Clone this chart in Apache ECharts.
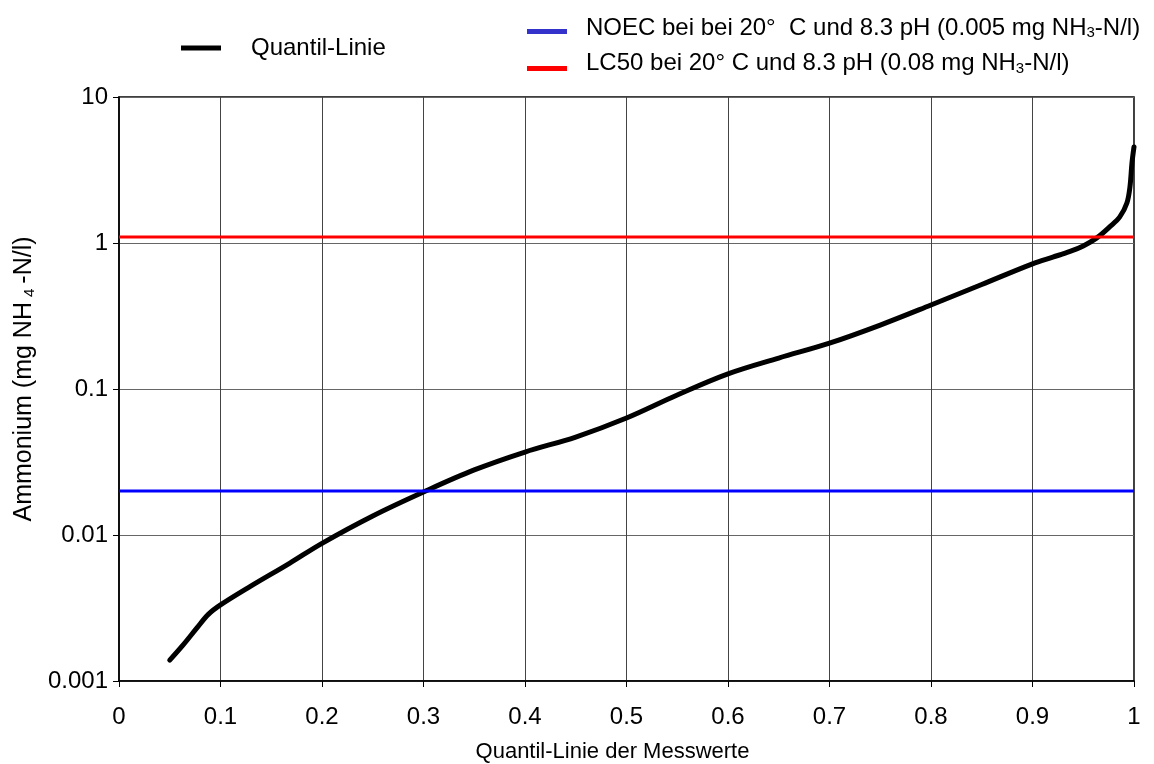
<!DOCTYPE html>
<html>
<head>
<meta charset="utf-8">
<script src="https://cdn.jsdelivr.net/npm/echarts@6/dist/echarts.min.js"></script>
<style>
html,body{margin:0;padding:0;background:#fff;}
#chart{width:1154px;height:764px;}
</style>
</head>
<body>
<div id="chart"></div>
<script>
// Data
const quantiles = [0.05, 0.063, 0.077, 0.088, 0.10, 0.129, 0.168, 0.20, 0.25, 0.30, 0.35, 0.40, 0.45, 0.50, 0.55, 0.60, 0.65, 0.70, 0.75, 0.80, 0.85, 0.90, 0.92, 0.937, 0.95, 0.963, 0.976, 0.986, 0.993, 0.996, 0.998, 1.0];
const ammonium  = [0.00139, 0.00176, 0.00232, 0.00286, 0.00332, 0.00443, 0.0064, 0.00877, 0.0135, 0.0197, 0.0279, 0.037, 0.0469, 0.0633, 0.091, 0.127, 0.163, 0.206, 0.274, 0.376, 0.52, 0.72, 0.80, 0.875, 0.955, 1.08, 1.29, 1.51, 1.88, 2.42, 3.53, 4.55];
const noecLevel = 0.02;
const lc50Level = 1.1;
const levelSpan = [0, 1];
const xTicks = [0, 0.1, 0.2, 0.3, 0.4, 0.5, 0.6, 0.7, 0.8, 0.9, 1];
const yTicks = [0.001, 0.01, 0.1, 1, 10];
const names = {
  curve: 'Quantil-Linie',
  noec: 'NOEC',
  lc50: 'LC50'
};
const legendLabels = {
  'Quantil-Linie': '{a|Quantil-Linie}',
  'NOEC': '{a|NOEC bei bei 20°  C und 8.3 pH (0.005 mg NH}{s|3}{c|-N/l)}',
  'LC50': '{a|LC50 bei 20° C und 8.3 pH (0.08 mg NH}{s|3}{c|-N/l)}'
};

const FONT = '"Liberation Sans", Arial, sans-serif';
const FS = 24;
const base = {fontFamily: FONT, fontSize: FS, color: '#000', lineHeight: 28};
const sub = {fontFamily: FONT, fontSize: 15, color: '#000', lineHeight: 28};

const chart = echarts.init(document.getElementById('chart'), null, {renderer: 'canvas'});
const curveData = quantiles.map((q, i) => [q, ammonium[i]]);
const noecData = levelSpan.map(q => [q, noecLevel]);
const lc50Data = levelSpan.map(q => [q, lc50Level]);

const legendCommon = {
  icon: 'rect', itemWidth: 40, itemHeight: 5, padding: 0,
  formatter: n => legendLabels[n]
};

function legendRich(padBottom, padLeft) {
  return {
    a: Object.assign({}, base, {padding: [0, 0, padBottom, padLeft]}),
    s: Object.assign({}, sub, {padding: [Math.max(0, 9 - padBottom), 0, 0, 0]}),
    c: Object.assign({}, base, {padding: [0, 0, padBottom, 0]})
  };
}

chart.setOption({
  animation: false,
  backgroundColor: '#fff',
  textStyle: {fontFamily: FONT},
  grid: {left: 119, right: 20, top: 97, bottom: 83, show: true, borderColor: '#000', borderWidth: 1.5,
    backgroundColor: 'transparent', containLabel: false, outerBoundsMode: 'none'},
  legend: [
    Object.assign({}, legendCommon, {
      data: [names.curve], left: 181, top: 36,
      textStyle: {rich: {a: Object.assign({}, base, {padding: [0, 0, 0, 25]})}}
    }),
    Object.assign({}, legendCommon, {
      data: [names.noec], left: 527, top: 16,
      textStyle: {rich: legendRich(7, 14)}
    }),
    Object.assign({}, legendCommon, {
      data: [names.lc50], left: 527, top: 51,
      textStyle: {rich: legendRich(11, 14)}
    })
  ],
  xAxis: {
    type: 'value', min: 0, max: 1, interval: 0.1,
    name: '{n|Quantil-Linie der Messwerte}', nameLocation: 'middle', nameGap: 58,
    nameTextStyle: {rich: {n: {fontFamily: FONT, fontSize: 22, color: '#000', lineHeight: 26, padding: [0, 28, 0, 0]}}},
    axisLine: {show: true, lineStyle: {color: '#000', width: 1.5}},
    axisTick: {show: true, length: 6, lineStyle: {color: '#000'}},
    axisLabel: {fontFamily: FONT, fontSize: FS, color: '#000', margin: 24,
      formatter: v => { const t = xTicks.find(x => Math.abs(x - v) < 1e-9); return t === undefined ? '' : String(t); }},
    splitLine: {show: true, lineStyle: {color: '#444', width: 1}}
  },
  yAxis: {
    type: 'log', logBase: 10, min: 0.001, max: 10,
    name: '{p|Ammonium (mg NH}{s|4}{a|-N/l)}', nameLocation: 'middle', nameGap: 80, nameRotate: 90,
    nameTextStyle: {rich: {
      p: {fontFamily: FONT, fontSize: 25, color: '#000', lineHeight: 28, padding: [0, 0, 0, 20]},
      a: {fontFamily: FONT, fontSize: 25, color: '#000', lineHeight: 28},
      s: Object.assign({}, sub, {padding: [10, 5, 0, 5]})
    }},
    axisLine: {show: true, lineStyle: {color: '#000', width: 1.5}},
    axisTick: {show: true, length: 6, lineStyle: {color: '#000'}},
    axisLabel: {fontFamily: FONT, fontSize: FS, color: '#000', margin: 11,
      formatter: v => { const t = yTicks.find(y => Math.abs(Math.log10(y) - Math.log10(v)) < 1e-6); return t === undefined ? '' : String(t); }},
    splitLine: {show: true, lineStyle: {color: '#666', width: 1}},
    minorTick: {show: false}
  },
  series: [
    {
      name: names.curve, type: 'line', data: curveData, smooth: 0.35,
      showSymbol: false, symbol: 'none', z: 2,
      lineStyle: {color: '#000', width: 5, cap: 'round', join: 'round'},
      itemStyle: {color: '#000'}
    },
    {
      name: names.noec, type: 'line', data: noecData, showSymbol: false, symbol: 'none', z: 3,
      lineStyle: {color: '#0000ff', width: 3},
      itemStyle: {color: '#3333cc'}
    },
    {
      name: names.lc50, type: 'line', data: lc50Data, showSymbol: false, symbol: 'none', z: 3,
      lineStyle: {color: '#ff0000', width: 3},
      itemStyle: {color: '#ff0000'}
    }
  ]
});
</script>
</body>
</html>
